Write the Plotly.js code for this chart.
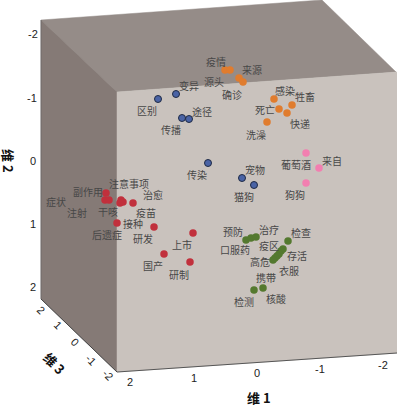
<!DOCTYPE html>
<html><head><meta charset="utf-8">
<script src="https://cdn.plot.ly/plotly-3.0.1.min.js"></script>
<style>html,body{margin:0;padding:0;background:#fff}#c{width:397px;height:407px}</style>
</head><body><div id="c"></div>
<script>
// Picture-plane positions
const navyX=[158,176,189,182,208,242,254];
const navyY=[99,94,119,118,163,178,185];
const orangeX=[225,230,239,243,274,292,279,287,267];
const orangeY=[70,70,78,82,99,105,109,113,122];
const pinkX=[306,319,306];
const pinkY=[153,168,183];
const redX=[106,105,109,121,120,123,133,117,154,193,164,190];
const redY=[193,200,200,200,203,202,203,223,227,233,254,262];
const greenX=[246,251,256,288,283,281,279,277,275,273,254,263];
const greenY=[240,238,237,241,249,251,254,256,258,260,290,288];

const tickFont={family:'Liberation Sans, Arial, sans-serif',size:11,color:'#222'};
const labelFont={family:'"Noto Sans CJK SC", sans-serif',size:10,color:'#474747'};
const titleFont={family:'"Noto Sans CJK SC", "Liberation Sans", sans-serif',size:13,color:'#111',weight:700};

const labels=[
 ['疫情',216,61],['来源',252,69],['源头',214,81],['确诊',232,94],['变异',189,85],['区别',147,110],['途径',202,111],['传播',171,129],
 ['感染',285,90],['牲畜',305,96],['死亡',265,109],['快递',300,123],['洗澡',256,134],['传染',197,174],['宠物',255,169],['猫狗',244,196],
 ['葡萄酒',296,164],['来自',332,160],['狗狗',295,194],
 ['注意事项',129,183],['副作用',88,191],['治愈',153,194],['症状',56,201],['注射',77,212],['干咳',108,211],['疫苗',146,212],['接种',133,223],['后遗症',107,234],['研发',143,238],['上市',182,244],['国产',153,265],['研制',179,274],
 ['预防',233,231],['治疗',269,229],['检查',301,232],['疫区',269,245],['口服药',235,249],['存活',297,255],['高危',260,261],['衣服',289,270],['携带',266,277],['检测',244,301],['核酸',276,298]
];
const ticks=[
 ['-2',33,34,0],['-1',32,98,0],['0',33,161,0],['1',33,224,0],['2',33,287,0],
 ['2',41,310,45],['1',58,325,45],['0',75,342,45],['-1',91,360,45],['-2',108,375,45],
 ['2',130,382,0],['1',194,378,0],['0',257,373,0],['-1',320,369,0],['-2',383,365,0]
];
const titles=[['维 2',9,161,90],['维 3',55,363,45],['维 1',259,397,0]];

const wall=(xs,ys,c)=>({type:'scatter',mode:'lines',x:xs,y:ys,fill:'toself',fillcolor:c,line:{color:c,width:0.5},hoverinfo:'skip',showlegend:false});
const dots=(xs,ys,c,outline)=>({type:'scatter',mode:'markers',x:xs,y:ys,hoverinfo:'skip',showlegend:false,
  marker:{size:outline?7:7.5,color:c,line:{color:outline||c,width:outline?1:0}}});
const traces=[
 wall([41,322,396,117,41],[20,0,72,92,20],'#958c88'),
 wall([41,117,117,41,41],[20,92,372,299,20],'#857a76'),
 wall([117,397,397,117,117],[92,72,353,372,92],'#c9c2bd'),
 {type:'scatter',mode:'lines',x:[117,397],y:[372,353],line:{color:'#555',width:1},hoverinfo:'skip',showlegend:false},
 {type:'scatter',mode:'lines',x:[41,117],y:[299,372],line:{color:'#444',width:1},hoverinfo:'skip',showlegend:false},
 {type:'scatter',mode:'lines',x:[41,41],y:[20,299],line:{color:'#666',width:0.7},hoverinfo:'skip',showlegend:false},
 dots(navyX,navyY,'#4a63a5','#1f2a44'),
 dots(orangeX,orangeY,'#e07c2e'),
 dots(pinkX,pinkY,'#f27eb0'),
 dots(redX,redY,'#c1303c'),
 dots(greenX,greenY,'#54792f')
];
const ann=(t,x,y,r,f)=>({text:t,x,y,textangle:r,font:f,showarrow:false,xanchor:'center',yanchor:'middle',borderpad:0});
const annotations=[
 ...labels.map(l=>ann(l[0],l[1],l[2],0,labelFont)),
 ...ticks.map(l=>ann(l[0],l[1],l[2],l[3],tickFont)),
 ...titles.map(l=>ann(l[0],l[1],l[2],l[3],titleFont))
];
Plotly.newPlot('c',traces,{
 width:397,height:407,margin:{l:0,r:0,t:0,b:0},paper_bgcolor:'#fff',plot_bgcolor:'#fff',showlegend:false,
 xaxis:{range:[0,397],visible:false,fixedrange:true},
 yaxis:{range:[407,0],visible:false,fixedrange:true},
 annotations
},{displayModeBar:false,staticPlot:true});
</script></body></html>
